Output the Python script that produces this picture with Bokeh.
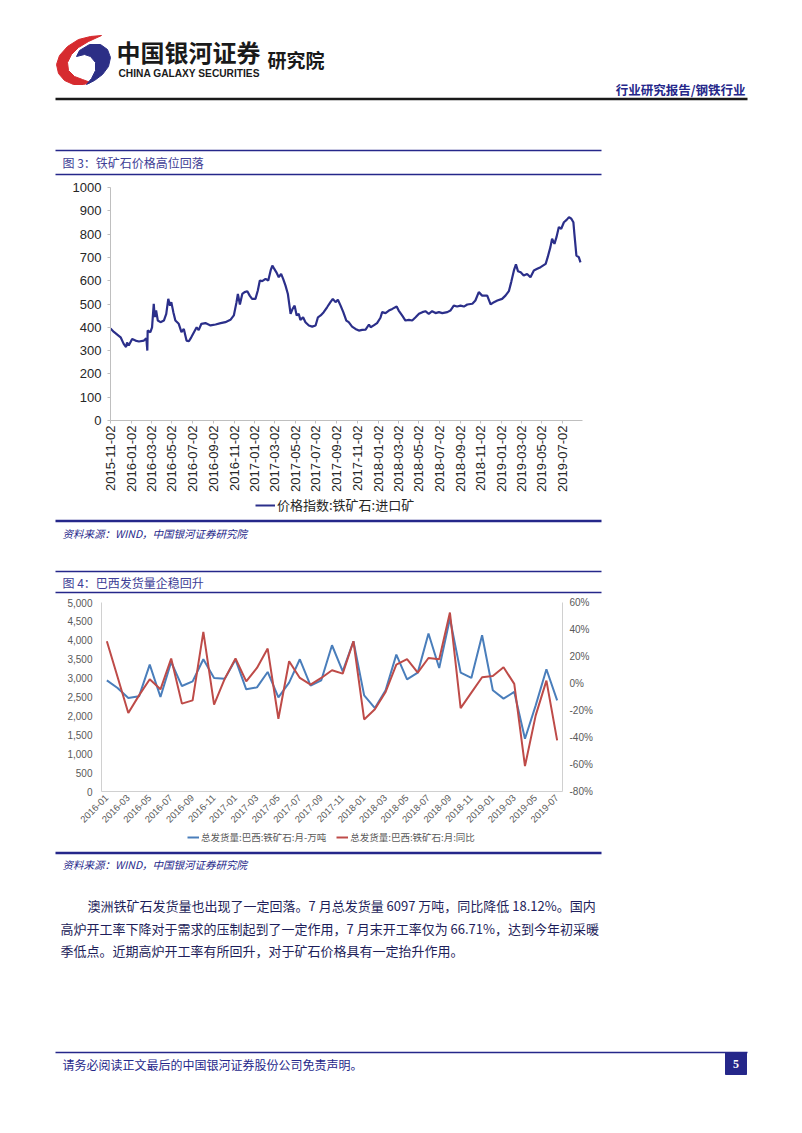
import math
import pandas as pd
from bokeh.plotting import figure
from bokeh.layouts import column
from bokeh.models import (Range1d, LinearAxis, FixedTicker, DatetimeTickFormatter,
                          NumeralTickFormatter, PrintfTickFormatter, Legend, LegendItem, Label)
from bokeh.core.properties import value
from bokeh.embed import file_html
from bokeh.resources import INLINE

# ---------------- data: chart 1 (iron ore import price index) ----------------
ore_dates = [
    "2015-11-02", "2015-11-12", "2015-12-02", "2015-12-11", "2015-12-18", "2015-12-21", "2015-12-26",
    "2016-01-05", "2016-01-15", "2016-01-25", "2016-02-09", "2016-02-16", "2016-02-19", "2016-02-20", "2016-02-28",
    "2016-03-04", "2016-03-09", "2016-03-12", "2016-03-16", "2016-03-21", "2016-03-29", "2016-04-08", "2016-04-15",
    "2016-04-21", "2016-04-26", "2016-04-30", "2016-05-06", "2016-05-12", "2016-05-22", "2016-05-30", "2016-06-06",
    "2016-06-14", "2016-06-21", "2016-06-28", "2016-07-06", "2016-07-14", "2016-07-20", "2016-07-28", "2016-08-09",
    "2016-08-24", "2016-09-08", "2016-09-23", "2016-10-07", "2016-10-22", "2016-11-01", "2016-11-09", "2016-11-13",
    "2016-11-19", "2016-11-26", "2016-12-03", "2016-12-11", "2016-12-18", "2016-12-25",
    "2017-01-04", "2017-01-11", "2017-01-17", "2017-01-24", "2017-02-03", "2017-02-11", "2017-02-18", "2017-02-23",
    "2017-02-27", "2017-03-07", "2017-03-14", "2017-03-21", "2017-03-27", "2017-04-03", "2017-04-10", "2017-04-18",
    "2017-04-24", "2017-04-30", "2017-05-06", "2017-05-12", "2017-05-17", "2017-05-25", "2017-06-01", "2017-06-11",
    "2017-06-21", "2017-07-01", "2017-07-08", "2017-07-16", "2017-07-25", "2017-08-04", "2017-08-14", "2017-08-21",
    "2017-08-29", "2017-09-05", "2017-09-13", "2017-09-21", "2017-09-30", "2017-10-07", "2017-10-17", "2017-10-27",
    "2017-11-06", "2017-11-16", "2017-11-26", "2017-12-06", "2017-12-11", "2017-12-20", "2017-12-30",
    "2018-01-09", "2018-01-14", "2018-01-24", "2018-02-03", "2018-02-13", "2018-02-26", "2018-03-04", "2018-03-14",
    "2018-03-24", "2018-04-03", "2018-04-13", "2018-04-23", "2018-05-03", "2018-05-13", "2018-05-22", "2018-06-01",
    "2018-06-11", "2018-06-21", "2018-07-01", "2018-07-11", "2018-07-26", "2018-08-04", "2018-08-14", "2018-08-24",
    "2018-09-03", "2018-09-13", "2018-09-23", "2018-10-08", "2018-10-17", "2018-10-27", "2018-11-06", "2018-11-21",
    "2018-12-01", "2018-12-11", "2018-12-21",
    "2019-01-04", "2019-01-14", "2019-01-24", "2019-01-31", "2019-02-08", "2019-02-14", "2019-02-20", "2019-02-28",
    "2019-03-09", "2019-03-19", "2019-03-29", "2019-04-08", "2019-04-18", "2019-04-28", "2019-05-13", "2019-05-19",
    "2019-05-27", "2019-06-01", "2019-06-08", "2019-06-14", "2019-06-21", "2019-06-28", "2019-07-06", "2019-07-14",
    "2019-07-21", "2019-07-28", "2019-08-03", "2019-08-06", "2019-08-12", "2019-08-19", "2019-08-24",
]
ore_price = [
    395, 380, 357, 329, 315, 335, 322,
    350, 343, 339, 343, 353, 300, 386, 379,
    400, 501, 444, 472, 429, 422, 429, 458,
    522, 493, 508, 465, 429, 415, 379, 393,
    343, 340, 357, 379, 400, 388, 415, 418,
    408, 412, 418, 422, 432, 451, 508, 543,
    498, 543, 551, 555, 536, 522,
    522, 558, 601, 598, 608, 601, 644, 665,
    655, 636, 615, 629, 608, 579, 543, 458,
    479, 493, 451, 458, 432, 443, 422, 408,
    403, 408, 443, 451, 465, 486, 508, 522,
    508, 518, 493, 465, 429, 422, 403, 393,
    386, 389, 390, 412, 400, 408, 418,
    441, 465, 461, 472, 479, 489, 472, 451,
    429, 432, 429, 443, 458, 465, 469, 458,
    469, 461, 465, 461, 465, 472, 493, 489,
    493, 489, 498, 501, 515, 551, 536, 536,
    498, 508, 515,
    522, 536, 555, 594, 644, 670, 641, 636,
    622, 629, 615, 644, 651, 658, 672, 701,
    744, 780, 758, 787, 830, 823, 851, 861,
    873, 866, 851, 801, 708, 701, 679,
]
ore_ticks = ["2015-11-02", "2016-01-02", "2016-03-02", "2016-05-02", "2016-07-02", "2016-09-02",
             "2016-11-02", "2017-01-02", "2017-03-02", "2017-05-02", "2017-07-02", "2017-09-02",
             "2017-11-02", "2018-01-02", "2018-03-02", "2018-05-02", "2018-07-02", "2018-09-02",
             "2018-11-02", "2019-01-02", "2019-03-02", "2019-05-02", "2019-07-02"]
ore_label = "价格指数:铁矿石:进口矿"

# ---------------- data: chart 2 (Brazil iron ore shipments) ----------------
months = ["2016-01", "2016-02", "2016-03", "2016-04", "2016-05", "2016-06", "2016-07", "2016-08",
          "2016-09", "2016-10", "2016-11", "2016-12", "2017-01", "2017-02", "2017-03", "2017-04",
          "2017-05", "2017-06", "2017-07", "2017-08", "2017-09", "2017-10", "2017-11", "2017-12",
          "2018-01", "2018-02", "2018-03", "2018-04", "2018-05", "2018-06", "2018-07", "2018-08",
          "2018-09", "2018-10", "2018-11", "2018-12", "2019-01", "2019-02", "2019-03", "2019-04",
          "2019-05", "2019-06", "2019-07"]
brazil_volume = [2941, 2737, 2473, 2517, 3357, 2499, 3426, 2790, 2914, 3498,
                 3003, 2985, 3489, 2703, 2755, 3162, 2490, 2879, 3498, 2800,
                 2941, 3869, 3180, 3975, 2544, 2208, 2677, 3622, 2968, 3145,
                 4178, 3269, 4576, 3145, 3004, 4134, 2677, 2456, 2633, 1396,
                 2279, 3233, 2412]
brazil_yoy = [31.3, 4.8, -21.9, -8.8, 3.1, -4.3, 18.5, -14.9, -12.5, 38.2,
              -15.7, 3.6, 18.5, 1.6, 11.5, 25.9, -26.1, 16.5, 4.1, -0.8,
              4.1, 9.8, 7.3, 31.3, -26.6, -19.1, -6.3, 14.0, 18.0, 8.1,
              18.9, 18.0, 52.6, -18.2, -6.8, 4.6, 5.6, 12.0, -0.3, -61.2,
              -23.6, 2.1, -42.1]
volume_label = "总发货量:巴西:铁矿石:月-万吨"
yoy_label = "总发货量:巴西:铁矿石:月:同比"
month_ticks = months[::2]

# ---------------- page texts ----------------
paragraph = [
    "澳洲铁矿石发货量也出现了一定回落。7 月总发货量 6097 万吨，同比降低 18.12%。国内",
    "高炉开工率下降对于需求的压制起到了一定作用，7 月末开工率仅为 66.71%，达到今年初采暖",
    "季低点。近期高炉开工率有所回升，对于矿石价格具有一定抬升作用。",
]
source_text = "资料来源：WIND，中国银河证券研究院"

# ---------------- styling ----------------
W = 786
NAVY = "#25278a"
TITLE = "#3d3d96"
CJK = "Noto Sans CJK SC"
SANS = "Liberation Sans"
BLUE = "#4a7ebb"
RED = "#be4b48"
ORE = "#2b2f8a"
NAN = float("nan")

# logo outline (decoration, page pixels)
logo_red_x = [101, 90, 78, 67, 59, 56, 58, 64, 73, 83, 90, 82, 74, 68, 67, 71, 78, 88]
logo_red_y = [35, 36, 39, 46, 55, 64, 73, 80, 84, 84, 82, 79, 76, 70, 62, 54, 47, 41]
logo_blue_x = [79, 89, 100, 107, 110, 108, 102, 94, 86, 91, 95, 95, 90, 84, 76]
logo_blue_y = [50, 44, 44, 49, 57, 66, 74, 80, 84, 78, 70, 62, 56, 54, 56]


def deco(top, bottom):
    p = figure(width=W, height=bottom - top, x_range=Range1d(0, W), y_range=Range1d(bottom, top),
               min_border=0, toolbar_location=None, output_backend="svg",
               x_axis_location=None, y_axis_location=None, outline_line_color=None)
    p.grid.visible = False
    p.frame_align = False
    return p


def rule(p, x0, x1, y, color, w):
    p.segment(x0=[x0], y0=[y], x1=[x1], y1=[y], line_color=color, line_width=w)


def txt(p, x, y, s, size, color, font=CJK, style="normal", align="left"):
    p.add_layout(Label(x=x, y=y, text=s, text_font=font, text_font_size=f"{size}px",
                       text_color=color, text_font_style=style, text_align=align,
                       text_baseline="middle"))


def legend_in(p, bottom, items, x_left, y_center, font_size, color, glyph_w, glyph_h, spacing):
    rends = []
    for lab, col in items:
        r = p.line(x=[NAN, NAN], y=[NAN, NAN], line_color=col, line_width=2)
        rends.append(LegendItem(label=value(lab), renderers=[r]))
    leg = Legend(items=rends, orientation="horizontal",
                 location=(x_left, bottom - y_center - glyph_h / 2),
                 label_text_font=CJK, label_text_font_size=f"{font_size}px", label_text_color=color,
                 glyph_width=glyph_w, glyph_height=glyph_h, label_height=glyph_h,
                 label_standoff=2, padding=0, margin=0, spacing=spacing,
                 border_line_color=None, background_fill_alpha=0)
    p.add_layout(leg, "center")


# ---------------- header ----------------
d1 = deco(0, 176)
d1.patch(logo_red_x, logo_red_y, fill_color="#d62b2f", line_color="#d62b2f", line_width=1)
d1.patch(logo_blue_x, logo_blue_y, fill_color="#2c2f86", line_color="#2c2f86", line_width=1)
txt(d1, 116, 51, "中国银河证券", 24, "#1a1a1a", style="bold")
txt(d1, 118, 72.5, "CHINA GALAXY SECURITIES", 10.2, "#1a1a1a", font=SANS, style="bold")
txt(d1, 267, 59, "研究院", 19, "#1a1a1a", style="bold")
txt(d1, 745, 88.5, "行业研究报告/钢铁行业", 12.5, NAVY, style="bold", align="right")
rule(d1, 55, 747, 98.5, "#1a1a1a", 2.5)
rule(d1, 55, 601, 150, NAVY, 1.5)
txt(d1, 62, 162, "图 3：铁矿石价格高位回落", 12, TITLE)
rule(d1, 55, 601, 174, NAVY, 1.5)

# ---------------- chart 1 ----------------
dts = pd.to_datetime(ore_dates)
c1 = figure(width=W, height=319, x_axis_type="datetime",
            x_range=Range1d(pd.Timestamp("2015-11-02"), pd.Timestamp("2019-08-30")),
            y_range=Range1d(0, 1000),
            min_border_left=110, min_border_right=204, min_border_top=11, min_border_bottom=75,
            toolbar_location=None, output_backend="svg", outline_line_color=None)
c1.frame_align = False
c1.grid.visible = False
c1.line(dts, ore_price, line_color=ORE, line_width=2.2)

c1.yaxis.ticker = FixedTicker(ticks=list(range(0, 1001, 100)))
c1.xaxis.ticker = FixedTicker(ticks=[pd.Timestamp(t).value / 1e6 for t in ore_ticks])
c1.xaxis.formatter = DatetimeTickFormatter(days="%Y-%m-%d", months="%Y-%m-%d", years="%Y-%m-%d")
c1.xaxis.major_label_orientation = math.pi / 2
for ax in (c1.xaxis, c1.yaxis):
    ax.axis_line_color = "#bfbfbf"
    ax.major_tick_line_color = "#bfbfbf"
    ax.major_tick_in = 0
    ax.major_tick_out = 3
    ax.minor_tick_line_color = None
    ax.major_label_text_font = SANS
    ax.major_label_text_font_size = "13px"
    ax.major_label_text_color = "#262626"
c1.yaxis.major_label_standoff = 6
c1.xaxis.major_label_standoff = 2

# ---------------- between charts ----------------
d2 = deco(495, 594)
legend_in(d2, 594, [(ore_label, ORE)], 255, 507, 13, "#262626", 20, 14, 0)
rule(d2, 55, 601, 520.5, NAVY, 2.5)
txt(d2, 62, 533, source_text, 10.5, NAVY, style="italic")
rule(d2, 55, 601, 571, NAVY, 1.5)
txt(d2, 62, 581.5, "图 4：巴西发货量企稳回升", 12, TITLE)
rule(d2, 55, 601, 592, NAVY, 1.5)

# ---------------- chart 2 ----------------
xi = list(range(len(months)))
c2 = figure(width=W, height=236, x_range=Range1d(-0.5, len(months) - 0.5), y_range=Range1d(0, 5000),
            min_border_left=101, min_border_right=224, min_border_top=8, min_border_bottom=39,
            toolbar_location=None, output_backend="svg", outline_line_color=None)
c2.frame_align = False
c2.grid.visible = False
c2.extra_y_ranges = {"pct": Range1d(-80, 60)}
c2.line(xi, brazil_volume, line_color=BLUE, line_width=2)
c2.line(xi, brazil_yoy, line_color=RED, line_width=2, y_range_name="pct")

right = LinearAxis(y_range_name="pct")
c2.add_layout(right, "right")
c2.yaxis[0].ticker = FixedTicker(ticks=list(range(0, 5001, 500)))
c2.yaxis[0].formatter = NumeralTickFormatter(format="0,0")
right.ticker = FixedTicker(ticks=list(range(-80, 61, 20)))
right.formatter = PrintfTickFormatter(format="%d%%")
c2.xaxis.ticker = FixedTicker(ticks=[months.index(m) for m in month_ticks])
c2.xaxis.major_label_overrides = {months.index(m): m for m in month_ticks}
c2.xaxis.major_label_orientation = math.pi / 4
for ax in list(c2.xaxis) + list(c2.yaxis):
    ax.axis_line_color = "#d0d0d0"
    ax.major_tick_line_color = None
    ax.major_tick_out = 0
    ax.major_tick_in = 0
    ax.minor_tick_line_color = None
    ax.minor_tick_out = 0
    ax.major_label_text_font = SANS
    ax.major_label_text_font_size = "10px"
    ax.major_label_text_color = "#595959"
c2.xaxis.major_label_text_font_size = "9.5px"
c2.yaxis[0].major_label_standoff = 9
right.major_label_standoff = 7
c2.xaxis.major_label_standoff = 5

# ---------------- text and footer ----------------
d3 = deco(830, 1125)
legend_in(d3, 1125, [(volume_label, BLUE), (yoy_label, RED)], 187, 839, 9.5, "#595959", 12, 10, 10)
rule(d3, 55, 601, 852.5, NAVY, 2.5)
txt(d3, 62, 864, source_text, 10.5, NAVY, style="italic")
txt(d3, 87, 905, paragraph[0], 13, "#1e1e5a")
txt(d3, 60, 927.5, paragraph[1], 13, "#1e1e5a")
txt(d3, 60, 949.5, paragraph[2], 13, "#1e1e5a")
rule(d3, 55, 747, 1052, NAVY, 1.5)
txt(d3, 62, 1064, "请务必阅读正文最后的中国银河证券股份公司免责声明。", 12, NAVY)
d3.quad(left=[725], right=[746], top=[1052], bottom=[1074], color=NAVY)
txt(d3, 735.5, 1063, "5", 12, "white", font="Liberation Serif", style="bold", align="center")

page = column(d1, c1, d2, c2, d3, spacing=0)
open("out.html", "w").write(file_html(page, INLINE))
